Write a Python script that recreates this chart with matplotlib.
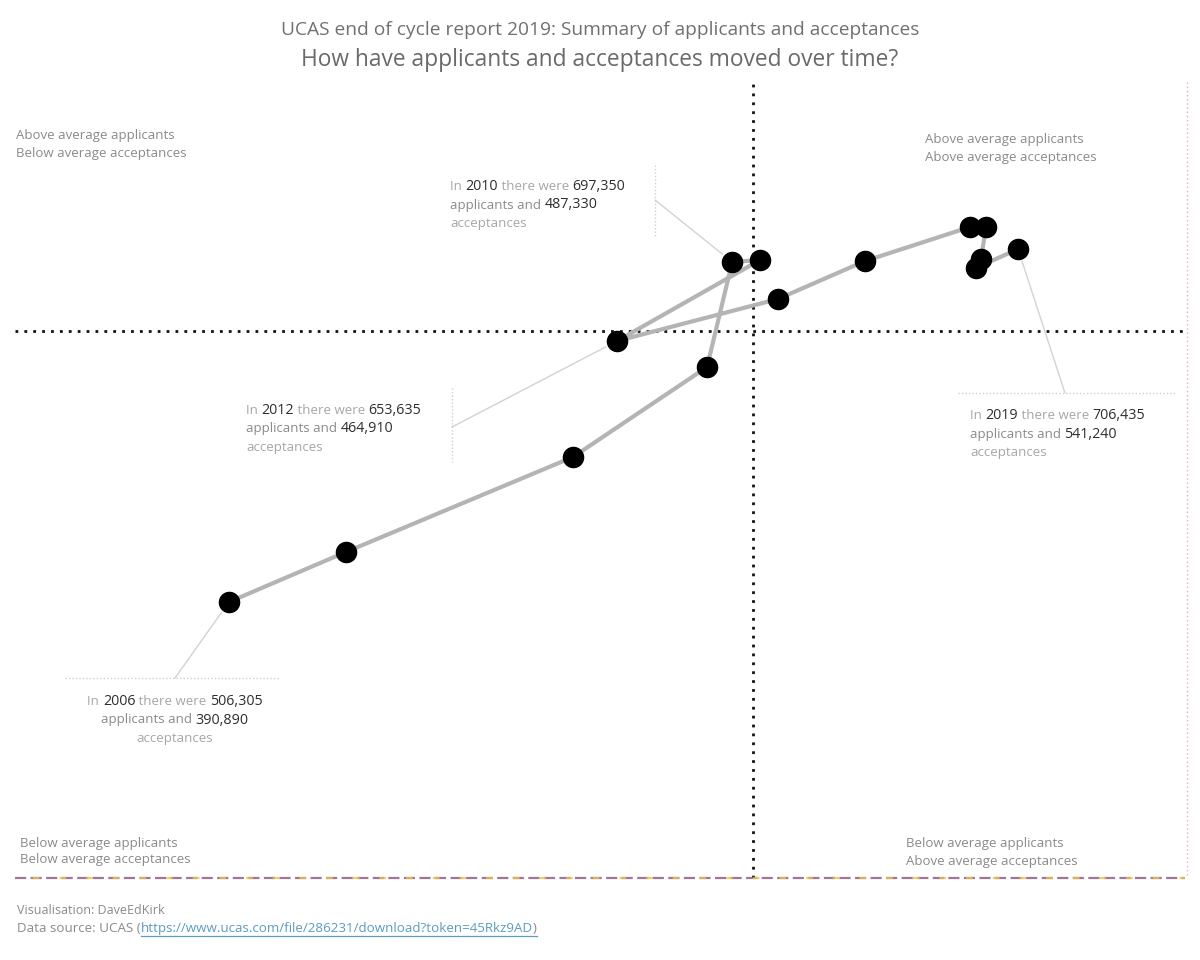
import matplotlib
matplotlib.use("Agg")
import numpy as np
import matplotlib.pyplot as plt
from matplotlib.lines import Line2D

# Data (2006-2019)
years = [2006, 2007, 2008, 2009, 2010, 2011, 2012,
         2013, 2014, 2015, 2016, 2017, 2018, 2019]
applicants = [506305, 550700, 636900, 687800, 697350, 707900, 653635,
              714700, 747800, 787600, 793700, 791800, 789900, 805850]
acceptances = [390890, 405070, 432010, 457540, 487330, 487880, 464910,
               476820, 487600, 497240, 497240, 488170, 485620, 491000]

W, H = 1200, 960
FONT = ["Open Sans", "DejaVu Sans"]
GREY = "#8a8a8a"
LIGHT = "#a6a6a6"
DARK = "#2e2e2e"

plt.rcParams["font.family"] = FONT

fig = plt.figure(figsize=(12, 9.6), dpi=100)
renderer = fig.canvas.get_renderer()


def fx(x):
    return x / W


def fy(y):
    return 1 - y / H


def measure(s, size):
    t = fig.text(0, 0, s, fontsize=size)
    w = t.get_window_extent(renderer).width
    t.remove()
    return w


def rich(x, y, parts, ha="left"):
    # parts: (text, colour, size); y is the baseline in pixels from the top
    widths = []
    for s, c, sz in parts:
        widths.append(measure(s + "I", sz) - measure("I", sz))
    total = sum(widths)
    x0 = x - total / 2 if ha == "center" else x
    spans = []
    cur = x0
    for (s, c, sz), w in zip(parts, widths):
        fig.text(fx(cur), fy(y), s, color=c, fontsize=sz, va="baseline")
        spans.append((cur, w))
        cur += w
    return spans


def fline(xs, ys, **kw):
    fig.add_artist(Line2D([fx(v) for v in xs], [fy(v) for v in ys], **kw))


# main axes
ax = fig.add_axes([fx(15), fy(878), (1185 - 15) / W, (878 - 82) / H])
ax.set_xlim(425060, 869251)
ax.set_ylim(312614, 538366)
ax.axis("off")

ax.axvline(np.mean(applicants), color="#111111", lw=2, ls=(0, (1, 2.2)), zorder=1)
ax.axhline(np.mean(acceptances), color="#111111", lw=2, ls=(0, (1, 2.2)), zorder=1)

ax.plot(applicants, acceptances, color="#b4b4b4", lw=3, zorder=2,
        solid_capstyle="round")
ax.plot(applicants, acceptances, ls="none", marker="o", ms=14.5,
        color="black", zorder=3)

# leader lines for the annotated years
leaders = {2010: (655, 200), 2012: (452, 427), 2006: (175, 678), 2019: (1065, 393)}
for yr, (lx, ly) in leaders.items():
    i = years.index(yr)
    ax.annotate("", xy=(applicants[i], acceptances[i]), xycoords="data",
                xytext=(lx, H - ly), textcoords="figure pixels",
                arrowprops=dict(arrowstyle="-", color="#d2d2d2", lw=1,
                                shrinkA=0, shrinkB=9))

# annotation borders (light dotted)
dot = dict(color="#d0d0d0", lw=1, ls=(0, (1, 1.5)))
fline([655, 655], [165, 238], **dot)
fline([452, 452], [388, 462], **dot)
fline([65, 280], [678, 678], **dot)
fline([958, 1175], [393, 393], **dot)

GS, NS = 9.5, 10.3


def note(x, y, yr, app, acc, ha="left"):
    rich(x, y, [("In ", LIGHT, GS), (str(yr), DARK, NS), (" there were ", LIGHT, GS),
                (app, DARK, NS)], ha=ha)
    rich(x, y + 18.5, [("applicants and ", GREY, GS), (acc, DARK, NS)], ha=ha)
    rich(x, y + 37, [("acceptances", LIGHT, GS)], ha=ha)


note(450, 190, 2010, "697,350", "487,330")
note(246, 414, 2012, "653,635", "464,910")
note(175, 705, 2006, "506,305", "390,890", ha="center")
note(970, 419, 2019, "706,435", "541,240")

# quadrant labels
quad = dict(color=GREY, fontsize=9.5, va="center")
fig.text(fx(16), fy(136), "Above average applicants", **quad)
fig.text(fx(16), fy(154), "Below average acceptances", **quad)
fig.text(fx(925), fy(140), "Above average applicants", **quad)
fig.text(fx(925), fy(158), "Above average acceptances", **quad)
fig.text(fx(20), fy(843), "Below average applicants", **quad)
fig.text(fx(20), fy(860), "Below average acceptances", **quad)
fig.text(fx(906), fy(844), "Below average applicants", **quad)
fig.text(fx(906), fy(862), "Above average acceptances", **quad)

# titles
fig.text(0.5, fy(30), "UCAS end of cycle report 2019: Summary of applicants and acceptances",
         ha="center", va="center", fontsize=13.8, color="#707070")
fig.text(0.5, fy(60), "How have applicants and acceptances moved over time?",
         ha="center", va="center", fontsize=16.4, color="#6a6a6a")

# bottom border of the view and faint right edge
fline([15, 1185], [878, 878], color="#7a3b6a", lw=1.6, ls=(0, (5, 2)), alpha=0.7)
fline([15, 1185], [878, 878], color="#e6c24a", lw=1.6, ls=(4, (3, 9)), alpha=0.8)
fline([1187, 1187], [82, 878], color="#d9b3bd", lw=1, ls=(0, (1, 2)))

# footer
fig.text(fx(17), fy(910), "Visualisation: DaveEdKirk", color=GREY, fontsize=9,
         va="center")
spans = rich(17, 932, [("Data source: UCAS (", GREY, 9.6),
                       ("https://www.ucas.com/file/286231/download?token=45Rkz9AD",
                        "#5b9cc2", 9.6),
                       (")", GREY, 9.6)])
lx0, lw_ = spans[1]
fline([lx0, lx0 + lw_ + spans[2][1]], [936, 936], color="#5b9cc2", lw=0.9)

fig.savefig("out.png", dpi=100, facecolor="white")
